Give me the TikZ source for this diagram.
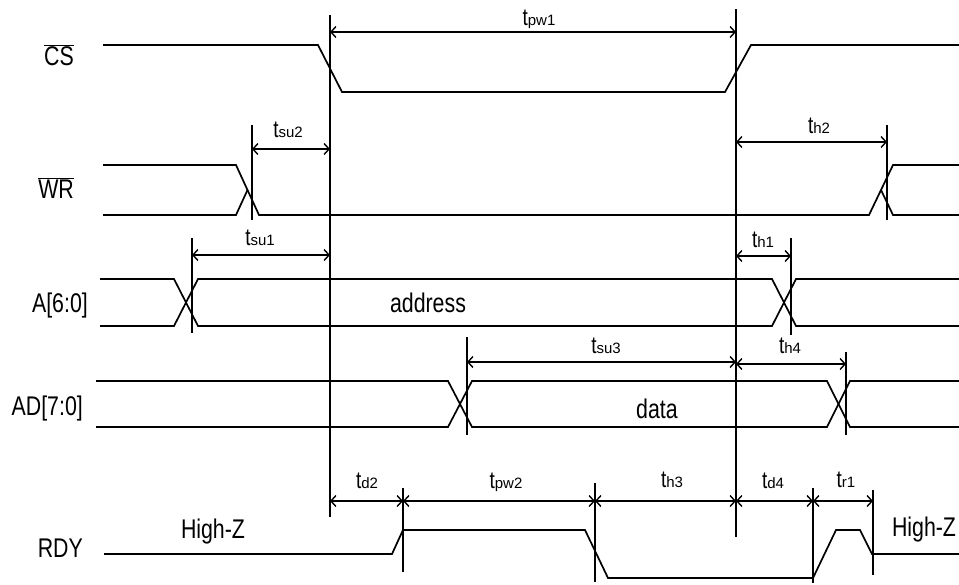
\documentclass[tikz,border=0pt]{standalone}
\usepackage{fontspec}
\setmainfont{Liberation Sans}[FakeStretch=0.79]
\newfontfamily\subfont{Liberation Sans}
\usetikzlibrary{arrows.meta}
\newcommand\tlab[1]{{\fontsize{24}{26}\selectfont t}{\subfont\fontsize{15}{17}\selectfont #1}}
\begin{document}
\begin{tikzpicture}[x=1pt,y=-1pt,
  sig/.style={line width=1.7pt, line join=miter},
  mline/.style={line width=1.7pt},
  dim/.style={line width=1.4pt, {Straight Barb[length=5pt,width=11pt,line width=1.4pt]}-{Straight Barb[length=5pt,width=11pt,line width=1.4pt]}},
  big/.style={font=\fontsize{27}{30}\selectfont, inner sep=0},
  tl/.style={inner sep=0, anchor=base}]
\useasboundingbox (0,0) rectangle (959,584);
% signal names
\node[big, anchor=base east] (ncs) at (74,65) {$\overline{\hbox{CS}}$};
\node[big, anchor=base east] (nwr) at (74,198) {$\overline{\hbox{WR}}$};
\node[big, anchor=base east] (na) at (88,312) {A[6:0]};
\node[big, anchor=base east] (nad) at (83,415) {AD[7:0]};
\node[big, anchor=base east] (nrdy) at (83,557) {RDY};
% CS
\draw[sig] (103,45)--(318,45)--(342,92)--(725,92)--(751,45)--(959,45);
% WR
\draw[sig] (103,165)--(236,165)--(259,215)--(869,215)--(893,165)--(959,165);
\draw[sig] (103,215)--(236,215)--(247.5,190);
\draw[sig] (881,190)--(893,215)--(959,215);
% A
\draw[sig] (100,279)--(174,279)--(198,326)--(772,326)--(796,279)--(959,279);
\draw[sig] (100,326)--(174,326)--(198,279)--(772,279)--(796,326)--(959,326);
% AD
\draw[sig] (96,381)--(448,381)--(472,427)--(827,427)--(850,381)--(959,381);
\draw[sig] (96,427)--(448,427)--(472,381)--(827,381)--(850,427)--(959,427);
% RDY
\draw[sig] (104,554)--(392,554)--(403,530)--(585,530)--(608,578)--(813,578)--(836,530)--(860,530)--(872,554)--(959,554);
% marker lines
\draw[mline] (330,15)--(330,517);
\draw[mline] (736,9)--(736,537);
\draw[mline] (252,125)--(252,220);
\draw[mline] (887,125)--(887,220);
\draw[mline] (192,238)--(192,333);
\draw[mline] (791,238)--(791,335);
\draw[mline] (467,337)--(467,435);
\draw[mline] (846,352)--(846,435);
\draw[mline] (403,488)--(403,572);
\draw[mline] (595,483)--(595,582);
\draw[mline] (813,488)--(813,583);
\draw[mline] (873,490)--(873,575);
% dimension arrows
\draw[dim] (330,32)--(736,32);
\draw[dim] (252,149)--(330,149);
\draw[dim] (736,142)--(887,142);
\draw[dim] (192,255)--(330,255);
\draw[dim] (736,256)--(791,256);
\draw[dim] (467,362)--(736,362);
\draw[dim] (736,364)--(846,364);
\draw[dim] (330,501)--(403,501);
\draw[dim] (403,501)--(595,501);
\draw[dim] (595,501)--(736,501);
\draw[dim] (736,501)--(813,501);
\draw[dim] (813,501)--(873,501);
% timing labels
\node[tl] (lpw1) at (539,25) {\tlab{pw1}};
\node[tl] (lsu2) at (288,137) {\tlab{su2}};
\node[tl] (lh2) at (819,133) {\tlab{h2}};
\node[tl] (lsu1) at (260,245) {\tlab{su1}};
\node[tl] (lh1) at (763,247) {\tlab{h1}};
\node[tl] (lsu3) at (606,353) {\tlab{su3}};
\node[tl] (lh4) at (790,353) {\tlab{h4}};
\node[tl] (ld2) at (367,488) {\tlab{d2}};
\node[tl] (lpw2) at (506,488) {\tlab{pw2}};
\node[tl] (lh3) at (672,487) {\tlab{h3}};
\node[tl] (ld4) at (773,488) {\tlab{d4}};
\node[tl] (lr1) at (846,487) {\tlab{r1}};
% other texts
\node[big, anchor=base] (addr) at (428,312) {address};
\node[big, anchor=base] (data) at (657,418) {data};
\node[big, anchor=base] (hz1) at (213,538) {High-Z};
\node[big, anchor=base] (hz2) at (924,536) {High-Z};
\end{tikzpicture}
\end{document}
